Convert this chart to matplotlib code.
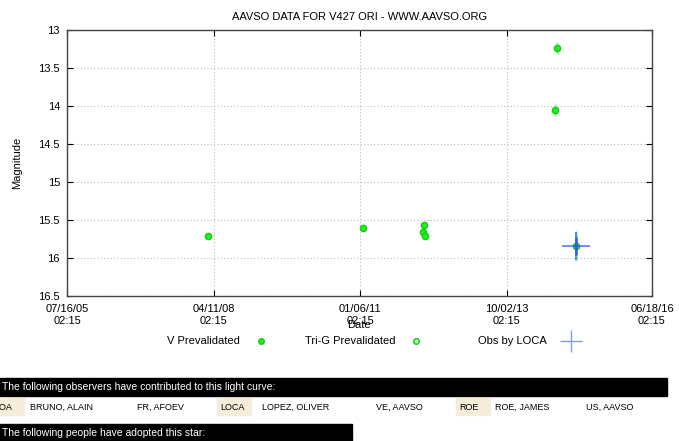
import numpy as np
import pandas as pd
import matplotlib
matplotlib.use('Agg')
import matplotlib.pyplot as plt
import matplotlib.dates as mdates
from matplotlib.lines import Line2D
from matplotlib.patches import Rectangle

plt.rcParams['font.family'] = ['Liberation Sans', 'DejaVu Sans']

# Дані
v_dates = ['2008-03-06', '2011-01-28', '2015-01-15']
v_mags = [15.71, 15.60, 15.84]
v_err = [0.02, 0.02, 0.20]

trig_dates = ['2012-03-08', '2012-03-19', '2012-03-24', '2014-08-26', '2014-09-09']
trig_mags = [15.66, 15.57, 15.71, 14.05, 13.24]
trig_err = [0.03, 0.03, 0.03, 0.08, 0.08]

loca_dates = ['2015-01-15']
loca_mags = [15.84]
loca_err = [0.12]

tick_dates = ['2005-07-16 02:15', '2008-04-11 02:15', '2011-01-06 02:15',
              '2013-10-02 02:15', '2016-06-18 02:15']
tick_labels = ['07/16/05\n02:15', '04/11/08\n02:15', '01/06/11\n02:15',
               '10/02/13\n02:15', '06/18/16\n02:15']
y_ticks = [13, 13.5, 14, 14.5, 15, 15.5, 16, 16.5]

observers = [('BOA', 'BRUNO, ALAIN'), (None, 'FR, AFOEV'), ('LOCA', 'LOPEZ, OLIVER'),
             (None, 'VE, AAVSO'), ('ROE', 'ROE, JAMES'), (None, 'US, AAVSO')]

W, H = 679, 441
fig = plt.figure(figsize=(W / 100, H / 100), dpi=100)
ax = fig.add_axes([67 / W, (H - 296) / H, 585 / W, 266 / H])

green = '#22f022'
ax.errorbar(mdates.datestr2num(v_dates), v_mags, yerr=v_err, fmt='o', ms=4.5,
            color=green, mec='#11cc11', ecolor='#a5f7a5', elinewidth=2, capsize=0, zorder=3)
ax.errorbar(mdates.datestr2num(trig_dates), trig_mags, yerr=trig_err, fmt='o', ms=4.5,
            color=green, mec='#11cc11', ecolor='#a5f7a5', elinewidth=2, capsize=0, zorder=3)
ax.errorbar(mdates.datestr2num(loca_dates), loca_mags, yerr=loca_err, fmt='+', ms=20,
            mew=1.2, color='#3355ee', ecolor='#3355ee', elinewidth=2, capsize=0,
            alpha=0.8, zorder=4)

tx = mdates.datestr2num(tick_dates)
ax.set_xlim(tx[0], tx[-1])
ax.set_xticks(tx)
ax.set_xticklabels(tick_labels)
ax.set_ylim(16.5, 13)
ax.set_yticks(y_ticks)
ax.set_yticklabels(['13', '13.5', '14', '14.5', '15', '15.5', '16', '16.5'])
ax.tick_params(direction='in', top=True, right=True, length=4, labelsize=8)
ax.tick_params(axis='x', pad=6)
ax.tick_params(axis='y', pad=5)
ax.grid(True, color='#bbbbbb', linestyle=(0, (1, 2)), linewidth=0.8)
for s in ax.spines.values():
    s.set_color('#444444')
    s.set_linewidth(1.0)

ax.set_title('AAVSO DATA FOR V427 ORI - WWW.AAVSO.ORG', fontsize=8, pad=7)
ax.set_ylabel('Magnitude', fontsize=8, labelpad=12)
fig.text(359 / W, 1 - 325 / H, 'Date', fontsize=8, ha='center', va='center')

# Легенда
ly = 1 - 341 / H
fig.text(240 / W, ly, 'V Prevalidated', fontsize=8, ha='right', va='center')
fig.add_artist(Line2D([261 / W], [ly], marker='o', ms=4, color=green, mec='#11cc11'))
fig.text(395 / W, ly, 'Tri-G Prevalidated', fontsize=8, ha='right', va='center')
fig.add_artist(Line2D([416 / W], [ly], marker='o', ms=4, color='#bbffbb', mec='#11cc11'))
fig.text(547 / W, ly, 'Obs by LOCA', fontsize=8, ha='right', va='center')
fig.add_artist(Line2D([571 / W], [ly], marker='+', ms=16, mew=1, color='#8899ff'))

# Нижня частина зі спостерігачами
fig.add_artist(Rectangle((0, 1 - 396 / H), 667 / W, 18 / H, transform=fig.transFigure,
                         color='black'))
fig.text(2 / W, 1 - 387 / H, 'The following observers have contributed to this light curve:',
         fontsize=7.5, color='white', va='center')
name_x = [30, 137, 262, 376, 495, 586]
code_x = [-10, None, 217, None, 456, None]
ry = 1 - 407 / H
for (code, name), nx, cx in zip(observers, name_x, code_x):
    if code:
        fig.add_artist(Rectangle((max(cx, 0) / W, 1 - 415 / H), (34 + min(cx, 0)) / W, 17 / H,
                                 transform=fig.transFigure, color='#f6ecda'))
        fig.text((cx + 3) / W, ry, code, fontsize=6.5, va='center')
    fig.text(nx / W, ry, name, fontsize=6.5, va='center')
fig.add_artist(Rectangle((0, 0), 352 / W, 17 / H, transform=fig.transFigure, color='black'))
fig.text(2 / W, 1 - 433 / H, 'The following people have adopted this star:',
         fontsize=7.5, color='white', va='center')

fig.savefig('out.png', dpi=100)
